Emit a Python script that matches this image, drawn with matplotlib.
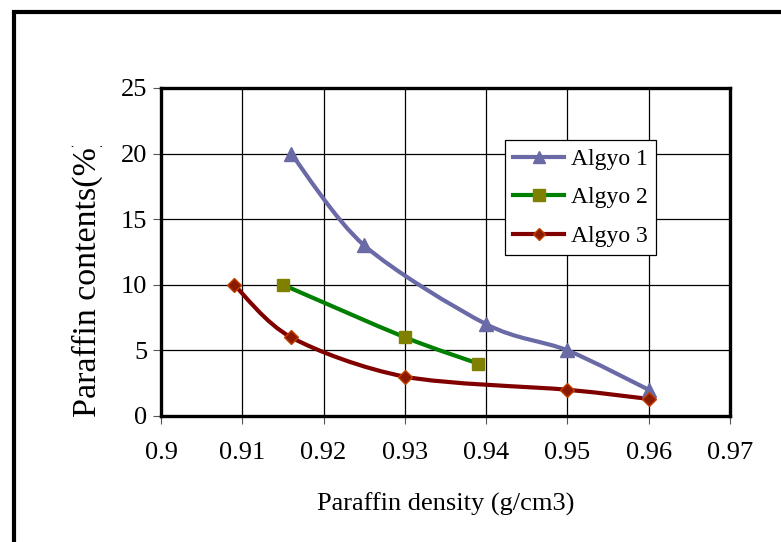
import matplotlib
matplotlib.use("Agg")
import matplotlib.pyplot as plt
import numpy as np
from matplotlib.path import Path
from matplotlib.patches import PathPatch, Rectangle
from matplotlib.lines import Line2D
from matplotlib.transforms import Bbox

plt.rcParams['font.family'] = ['Liberation Serif', 'DejaVu Serif']

# Paraffin density (g/cm3) vs paraffin content (%)
algyo1_x = [0.916, 0.925, 0.940, 0.950, 0.960]
algyo1_y = [20, 13, 7, 5, 2]
algyo2_x = [0.915, 0.930, 0.939]
algyo2_y = [10, 6, 4]
algyo3_x = [0.909, 0.916, 0.930, 0.950, 0.960]
algyo3_y = [10, 6, 3, 2, 1.3]

x_ticks = [0.9, 0.91, 0.92, 0.93, 0.94, 0.95, 0.96, 0.97]
x_tick_labels = ["0.9", "0.91", "0.92", "0.93", "0.94", "0.95", "0.96", "0.97"]
y_ticks = [0, 5, 10, 15, 20, 25]

W, H = 781, 542
fig = plt.figure(figsize=(W / 100, H / 100), dpi=100)

# outer chart frame (runs past the right and bottom edges)
fig.patches.append(Rectangle((14 / W, -0.05), 1.2, (H - 12) / H + 0.05,
                             transform=fig.transFigure, fill=False,
                             edgecolor='black', linewidth=3.0))

ax = fig.add_axes([161 / W, 1 - 416 / H, (730 - 161) / W, (416 - 88) / H])
ax.set_xlim(0.9, 0.97)
ax.set_ylim(0, 25)
ax.set_xticks(x_ticks)
ax.set_xticklabels(x_tick_labels)
ax.set_yticks(y_ticks)
ax.grid(True, color='black', linewidth=0.9)
ax.set_axisbelow(True)
for s in ax.spines.values():
    s.set_linewidth(2.4)
    s.set_color('black')
ax.tick_params(axis='both', labelsize=19, length=6, width=0.8,
               color='#555555', direction='out')
ax.tick_params(axis='x', pad=13)
ax.tick_params(axis='y', pad=4)


def smooth_path(xs, ys, t=0.15):
    """Cubic Bezier through the points, Excel-style smoothed line."""
    p = np.column_stack([xs, ys]).astype(float)
    n = len(p)
    verts = [p[0]]
    codes = [Path.MOVETO]
    for i in range(n - 1):
        p0 = p[i - 1] if i > 0 else p[i]
        p1 = p[i]
        p2 = p[i + 1]
        p3 = p[i + 2] if i + 2 < n else p[i + 1]
        c1 = p1 + (p2 - p0) * t
        c2 = p2 - (p3 - p1) * t
        verts += [c1, c2, p2]
        codes += [Path.CURVE4] * 3
    return Path(np.array(verts), codes)


series = [
    ("Algyo 1", algyo1_x, algyo1_y, '#6A6AA6', '^', '#6A6AA6', '#6A6AA6', 10),
    ("Algyo 2", algyo2_x, algyo2_y, '#008000', 's', '#808000', '#808000', 9),
    ("Algyo 3", algyo3_x, algyo3_y, '#800000', 'D', '#8B1A00', '#C04000', 7),
]

handles = []
for name, xs, ys, lc, mk, mfc, mec, ms in series:
    ax.add_patch(PathPatch(smooth_path(xs, ys), facecolor='none',
                           edgecolor=lc, linewidth=3.0, zorder=3,
                           capstyle='round', joinstyle='round'))
    ax.plot(xs, ys, linestyle='none', marker=mk, markersize=ms,
            markerfacecolor=mfc, markeredgecolor=mec, markeredgewidth=1.0,
            zorder=4, clip_on=False)
    handles.append(Line2D([], [], color=lc, linewidth=3.0, marker=mk,
                          markersize=ms * 0.9, markerfacecolor=mfc,
                          markeredgecolor=mec, label=name))

leg = ax.legend(handles=handles, loc='upper left',
                bbox_to_anchor=((505 - 161) / (730 - 161), 1 - (140 - 88) / (416 - 88)),
                fontsize=17, frameon=True, fancybox=False, edgecolor='black',
                framealpha=1, borderpad=0.35, labelspacing=0.72,
                handlelength=2.15, handletextpad=0.3, borderaxespad=0)
leg.get_frame().set_linewidth(0.9)

ax.set_xlabel("Paraffin density (g/cm3)", fontsize=19, labelpad=20)

# y-axis title, cut off at the top of the chart area
ylab = fig.text(87 / W, 1 - 417 / H, "Paraffin contents(%)", rotation=90,
                ha='center', va='bottom', fontsize=24.5)
ylab.set_clip_box(Bbox.from_extents(0, 0, W, H - 146))
ylab.set_clip_on(True)

fig.savefig("out.png", dpi=100)
